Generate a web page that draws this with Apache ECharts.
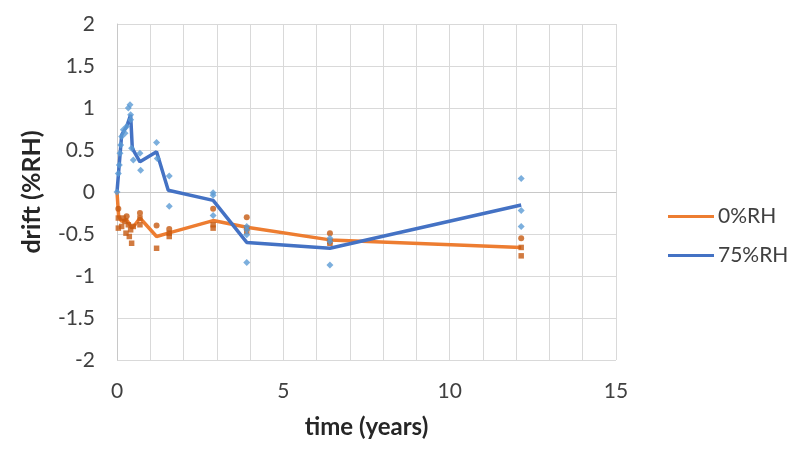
<!DOCTYPE html>
<html>
<head>
<meta charset="utf-8">
<script src="https://cdn.jsdelivr.net/npm/echarts@6/dist/echarts.min.js"></script>
<style>html,body{margin:0;padding:0;background:#fff}#c{width:800px;height:450px}</style>
</head>
<body>
<div id="c"></div>
<script>
// Mean lines
const meanTime0 = [0, 0.05, 0.14, 0.29, 0.44, 0.54, 0.69, 1.19, 1.54, 2.89, 3.9, 6.4, 12.15];
const mean0 = [0, -0.29, -0.35, -0.33, -0.43, -0.39, -0.31, -0.53, -0.49, -0.34, -0.42, -0.57, -0.66];
const meanTime75 = [0, 0.14, 0.29, 0.41, 0.46, 0.69, 1.19, 1.54, 2.89, 3.9, 6.4, 12.15];
const mean75 = [0, 0.68, 0.78, 0.92, 0.52, 0.36, 0.48, 0.02, -0.10, -0.60, -0.67, -0.155];

// Individual sensors, 0%RH (circles)
const circTime0 = [0.04, 0.29, 0.69, 1.19, 1.57, 2.89, 3.9, 6.4, 12.15];
const circVal0 = [-0.20, -0.29, -0.25, -0.40, -0.44, -0.20, -0.30, -0.49, -0.55];
// Individual sensors, 0%RH (squares)
const sqTime0 = [0.04, 0.04, 0.14, 0.19, 0.24, 0.34, 0.27, 0.37, 0.44, 0.41, 0.49, 0.69, 0.69, 1.19, 1.57, 1.57, 2.89, 2.89, 3.9, 3.9, 6.4, 6.4, 12.15, 12.15];
const sqVal0 = [-0.31, -0.43, -0.41, -0.31, -0.35, -0.39, -0.49, -0.53, -0.61, -0.45, -0.41, -0.31, -0.39, -0.67, -0.49, -0.53, -0.39, -0.43, -0.43, -0.47, -0.59, -0.61, -0.66, -0.76];
// Individual sensors, 75%RH (diamonds)
const dTime75 = [0, 0.04, 0.07, 0.09, 0.11, 0.14, 0.19, 0.24, 0.29, 0.34, 0.39, 0.41, 0.41, 0.44, 0.49, 0.69, 0.71, 1.19, 1.21, 1.57, 1.57, 2.89, 2.89, 2.89, 3.9, 3.9, 3.9, 3.9, 6.4, 6.4, 6.4, 12.15, 12.15, 12.15];
const dVal75 = [0, 0.22, 0.32, 0.46, 0.56, 0.66, 0.74, 0.70, 0.78, 1.00, 1.04, 0.92, 0.86, 0.52, 0.38, 0.46, 0.26, 0.59, 0.40, 0.19, -0.17, -0.01, -0.04, -0.28, -0.41, -0.45, -0.51, -0.84, -0.55, -0.59, -0.87, 0.16, -0.22, -0.41];

const xTicks = [0, 5, 10, 15];
const seriesNames = ['0%RH', '75%RH'];

const zip = (a, b) => a.map((v, i) => [v, b[i]]);
const font = 'Lato, "Open Sans", sans-serif';

const chart = echarts.init(document.getElementById('c'), null, {renderer: 'canvas'});
chart.setOption({
  animation: false,
  backgroundColor: '#fff',
  grid: {left: 117, right: 184, top: 24, bottom: 90, containLabel: false},
  legend: {
    orient: 'vertical', left: 663, top: 201, itemGap: 18,
    itemWidth: 46, itemHeight: 3, icon: 'rect',
    data: seriesNames,
    textStyle: {fontFamily: font, fontSize: 21, color: '#404040', lineHeight: 21, padding: [0, 0, 0, -1]}
  },
  xAxis: {
    type: 'value', min: 0, max: 15, interval: 1,
    name: 'time (years)', nameLocation: 'middle', nameGap: 55,
    nameTextStyle: {fontFamily: font, fontSize: 24, fontWeight: 'bold', color: '#262626'},
    axisLine: {show: true, lineStyle: {color: '#c8c8c8'}},
    axisTick: {show: false},
    axisLabel: {
      fontFamily: font, fontSize: 21, color: '#404040', margin: 21,
      formatter: v => xTicks.indexOf(v) >= 0 ? String(v) : ''
    },
    splitLine: {show: true, lineStyle: {color: '#d9d9d9', width: 1}}
  },
  yAxis: {
    type: 'value', min: -2, max: 2, interval: 0.5,
    name: 'drift (%RH)', nameLocation: 'middle', nameGap: 73, nameRotate: 90,
    nameTextStyle: {fontFamily: font, fontSize: 25, fontWeight: 'bold', color: '#262626'},
    axisLine: {show: true, lineStyle: {color: '#c8c8c8'}},
    axisTick: {show: false},
    axisLabel: {fontFamily: font, fontSize: 21, color: '#404040', margin: 22},
    splitLine: {show: true, lineStyle: {color: '#d9d9d9', width: 1}}
  },
  series: [
    {name: seriesNames[0], type: 'line', data: zip(meanTime0, mean0), showSymbol: false,
     lineStyle: {color: '#ED7D31', width: 3.5}, itemStyle: {color: '#ED7D31'}, z: 2},
    {name: seriesNames[1], type: 'line', data: zip(meanTime75, mean75), showSymbol: false,
     lineStyle: {color: '#4472C4', width: 3.5}, itemStyle: {color: '#4472C4'}, z: 3},
    {name: 'c0', type: 'scatter', data: zip(circTime0, circVal0), symbol: 'circle', symbolSize: 6,
     itemStyle: {color: '#C55A11'}, z: 4},
    {name: 's0', type: 'scatter', data: zip(sqTime0, sqVal0), symbol: 'rect', symbolSize: 5.5,
     itemStyle: {color: '#C55A11'}, z: 4},
    {name: 'd75', type: 'scatter', data: zip(dTime75, dVal75), symbol: 'diamond', symbolSize: 7,
     itemStyle: {color: '#5B9BD5'}, z: 5}
  ]
});
</script>
</body>
</html>
